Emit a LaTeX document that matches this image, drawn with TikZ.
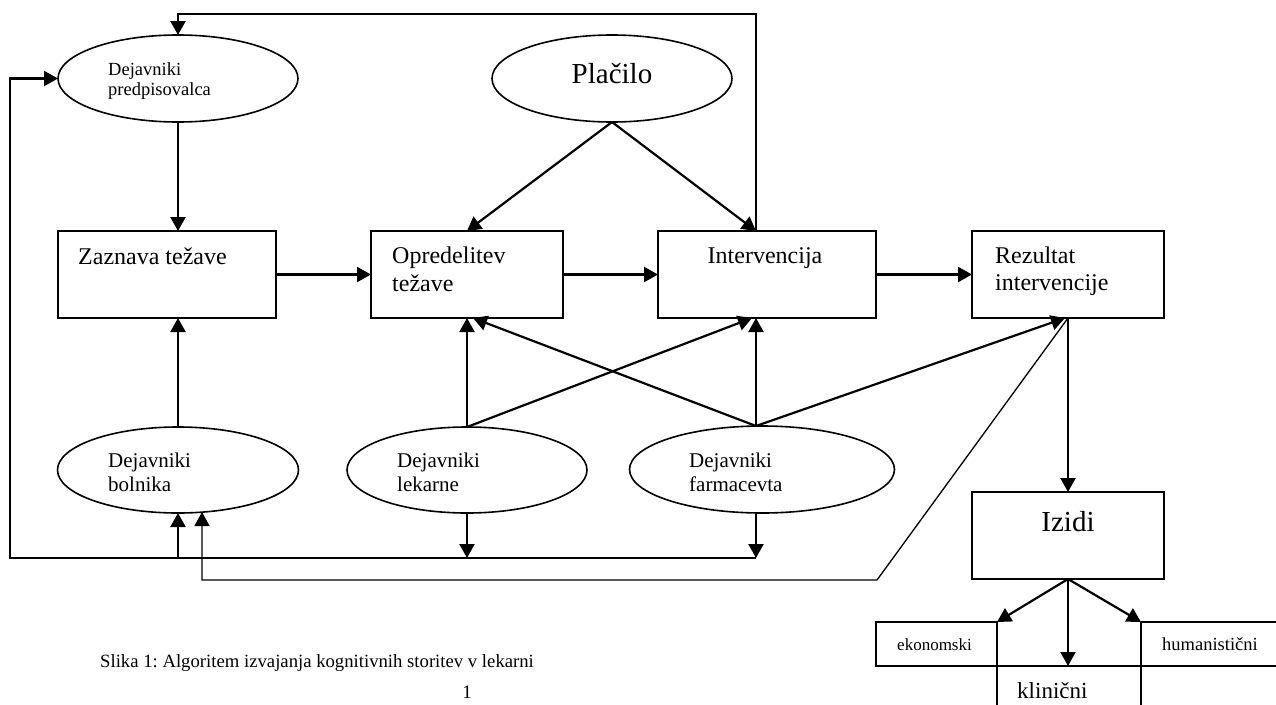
\documentclass[tikz,border=0pt]{standalone}
\usepackage{fontspec}
\setmainfont{Liberation Serif}
\usetikzlibrary{shapes.geometric,arrows.meta,calc}

\newcommand{\fs}[2]{\fontsize{#1}{#2}\selectfont}
\frenchspacing

\begin{document}
\begin{tikzpicture}[x=1pt,y=-1pt,
  box/.style={draw, line width=1.6pt, rectangle, inner sep=0pt, outer sep=0pt},
  oval/.style={draw, line width=1.6pt, ellipse, inner sep=0pt, outer sep=0pt},
  lbl/.style={inner sep=0pt, anchor=base west, align=left},
  clbl/.style={inner sep=0pt, anchor=base},
  arr/.style={line width=2.2pt, -{Triangle[length=14pt,width=15pt]}},
  thinarr/.style={line width=1.3pt, -{Triangle[length=14pt,width=15pt]}}]

\useasboundingbox (0,0) rectangle (1276,704);
\clip (0,0) rectangle (1276,704);

% ---- ellipses
\node[oval, minimum width=240pt, minimum height=87pt] (pred) at (178,78.5) {};
\node[oval, minimum width=240pt, minimum height=87pt] (pla)  at (612,78.5) {};
\node[oval, minimum width=241pt, minimum height=86pt] (bol)  at (178,470) {};
\node[oval, minimum width=240pt, minimum height=86pt] (lek)  at (467,470) {};
\node[oval, minimum width=265pt, minimum height=87pt] (far)  at (762,469.5) {};

% ---- boxes of the main chain
\node[box, minimum width=218pt, minimum height=87pt] (zaz) at (167,274.5) {};
\node[box, minimum width=192pt, minimum height=87pt] (opr) at (467,274.5) {};
\node[box, minimum width=218pt, minimum height=87pt] (int) at (767,274.5) {};
\node[box, minimum width=192pt, minimum height=87pt] (rez) at (1068,274.5) {};
\node[box, minimum width=192pt, minimum height=87pt] (izi) at (1068,535.5) {};

% ---- outcome boxes
\node[box, minimum width=121pt, minimum height=44pt] (eko) at (936.5,644) {};
\node[box, minimum width=149pt, minimum height=44pt] (hum) at (1215.5,644) {};
\node[box, minimum width=144pt, minimum height=50pt] (kli) at (1069,691) {};

% ---- texts (multi-line labels are placed by their last baseline)
\node[lbl, font=\fs{18.5}{20}] at (108,95) {Dejavniki\\predpisovalca};
\node[clbl, font=\fs{29}{34}] (tpla) at (612,83) {Plačilo};
\node[lbl, font=\fs{24}{28}] at (78,264) {Zaznava težave};
\node[lbl, font=\fs{24}{28}] at (392,291) {Opredelitev\\težave};
\node[clbl, font=\fs{24}{28}] at (765,263) {Intervencija};
\node[lbl, font=\fs{24}{27}] at (995,290) {Rezultat\\intervencije};
\node[lbl, font=\fs{21}{24}] at (108,491) {Dejavniki\\bolnika};
\node[lbl, font=\fs{21}{24}] at (397,491) {Dejavniki\\lekarne};
\node[lbl, font=\fs{21}{24}] at (689,491) {Dejavniki\\farmacevta};
\node[clbl, font=\fs{29}{34}] at (1068,531) {Izidi};
\node[lbl, font=\fs{17}{20}] at (897,650) {ekonomski};
\node[lbl, font=\fs{18.5}{22}] at (1162,650) {humanistični};
\node[lbl, font=\fs{23}{28}] at (1017,698) {klinični};
\node[lbl, font=\fs{18.7}{23}] (cap) at (100,667) {Slika 1: Algoritem izvajanja kognitivnih storitev v lekarni};
\node[clbl, font=\fs{19}{23}] (pg) at (467,698) {1};

% ---- attachment points
\coordinate (intTop) at ([xshift=-11pt]int.north);
\coordinate (intBot) at ([xshift=-11pt]int.south);
\coordinate (intBotX) at ([xshift=-15pt]int.south);
\coordinate (oprBotX) at ([xshift=6pt]opr.south);
\coordinate (farTop) at ([xshift=-6pt]far.north);
\coordinate (farBot) at ([xshift=-6pt]far.south);
\coordinate (topRail) at (0,14);
\coordinate (bus) at (0,558);
\coordinate (busL) at (10,558);
\coordinate (retK) at (877,580);
\coordinate (bolR) at ([xshift=24pt,yshift=1pt]bol.south);

% ---- payment
\draw[arr] (pla.south) -- (opr.north);
\draw[arr] (pla.south) -- (intTop);

% ---- main chain
\draw[arr] (pred.south) -- (zaz.north -| pred.south);
\draw[arr] (zaz.east) -- (opr.west);
\draw[arr] (opr.east) -- (int.west);
\draw[arr] (int.east) -- (rez.west);
\draw[arr] (rez.south) -- (izi.north);

% ---- feedback over the top
\draw[arr] (intTop) -- (intTop |- topRail) -| (pred.north);

% ---- factors acting on the chain
\draw[arr] (bol.north) -- (bol.north |- zaz.south);
\draw[arr] (lek.north) -- (lek.north |- opr.south);
\draw[arr] (lek.north) -- (intBotX);
\draw[arr] (farTop) -- (oprBotX);
\draw[arr] (farTop) -- (intBot);
\draw[arr] (farTop) -- ([xshift=-3pt]rez.south);

% ---- lower bus back to the prescriber and the patient
\draw[arr] (lek.south) -- (lek.south |- bus);
\draw[arr] (farBot) -- (farBot |- bus);
\draw[arr] (farBot |- bus) -- (busL) |- (pred.west);
\draw[arr] (bol.south |- bus) -- (bol.south);

% ---- return from the result to the patient
\draw[thinarr] (rez.south) -- (retK) -- (retK -| bolR) -- (bolR);

% ---- outcomes
\draw[arr] (izi.south) -- (eko.north east);
\draw[arr] (izi.south) -- (izi.south |- kli.north);
\draw[arr] (izi.south) -- (hum.north west);

\end{tikzpicture}
\end{document}
